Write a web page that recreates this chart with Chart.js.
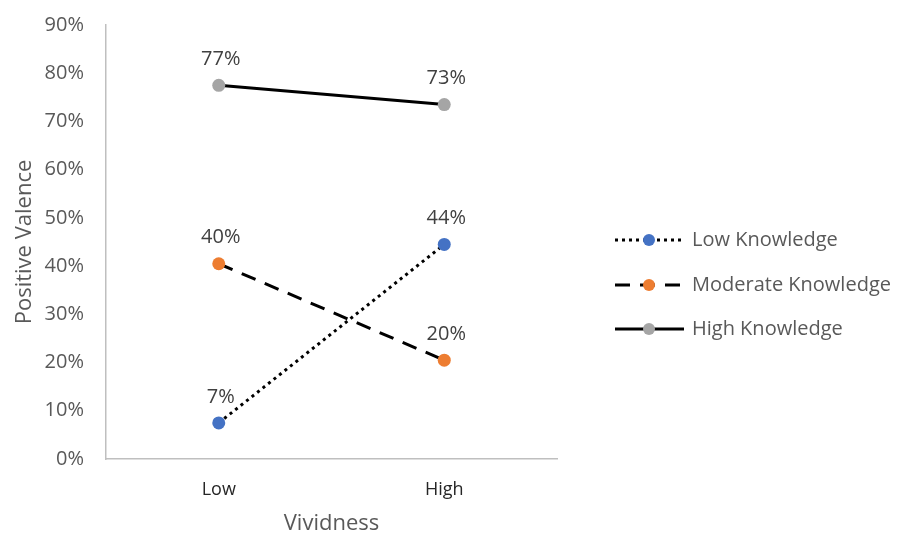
<!DOCTYPE html>
<html>
<head>
<meta charset="utf-8">
<script src="https://cdn.jsdelivr.net/npm/chart.js@4.4.1/dist/chart.umd.min.js"></script>
<style>
  html, body { margin: 0; padding: 0; background: #ffffff; }
  #wrap { width: 905px; height: 537px; position: relative; }
</style>
</head>
<body>
<div id="wrap"><canvas id="chart" width="905" height="537"></canvas></div>
<script>
// Vividness categories and positive-valence percentages by knowledge level
const categories = ['Low', 'High'];
const lowKnowledge = [7.49, 44.49];
const moderateKnowledge = [40.49, 20.49];
const highKnowledge = [77.49, 73.49];
const yTicks = [0, 10, 20, 30, 40, 50, 60, 70, 80, 90];

const FONT = "'Open Sans', 'Liberation Sans', sans-serif";
const GREY_TEXT = '#595959';

// Percent labels above each point
const pointLabels = {
  id: 'pointLabels',
  afterDatasetsDraw(chart) {
    const ctx = chart.ctx;
    ctx.save();
    ctx.font = '20px ' + FONT;
    ctx.fillStyle = '#404040';
    ctx.textAlign = 'center';
    ctx.textBaseline = 'middle';
    chart.data.datasets.forEach((ds, i) => {
      const meta = chart.getDatasetMeta(i);
      meta.data.forEach((pt, j) => {
        ctx.fillText(Math.round(ds.data[j]) + '%', pt.x + 2, pt.y - 26);
      });
    });
    ctx.restore();
  }
};

// Legend on the right: line sample in the series style with its marker
const sideLegend = {
  id: 'sideLegend',
  afterDraw(chart) {
    const ctx = chart.ctx;
    const x0 = 615, x1 = 684, xm = 649, xt = 692;
    const ys = [240, 285, 329];
    ctx.save();
    chart.data.datasets.forEach((ds, i) => {
      const y = ys[i];
      ctx.beginPath();
      ctx.setLineDash(ds.borderDash || []);
      ctx.lineWidth = ds.borderWidth;
      ctx.strokeStyle = ds.borderColor;
      ctx.moveTo(x0, y);
      ctx.lineTo(x1, y);
      ctx.stroke();
      ctx.setLineDash([]);
      ctx.beginPath();
      ctx.arc(xm, y, 6, 0, Math.PI * 2);
      ctx.fillStyle = ds.pointBackgroundColor;
      ctx.fill();
      ctx.font = '20px ' + FONT;
      ctx.fillStyle = GREY_TEXT;
      ctx.textAlign = 'left';
      ctx.textBaseline = 'middle';
      ctx.fillText(ds.label, xt, y);
    });
    ctx.restore();
  }
};

function series(label, data, color, dash) {
  return {
    label: label,
    data: data,
    borderColor: '#000000',
    borderWidth: 3,
    borderDash: dash,
    borderCapStyle: 'butt',
    pointRadius: 6.5,
    pointHoverRadius: 6.5,
    pointBackgroundColor: color,
    pointBorderColor: color,
    pointBorderWidth: 0,
    tension: 0,
    fill: false
  };
}

new Chart(document.getElementById('chart'), {
  type: 'line',
  data: {
    labels: categories,
    datasets: [
      series('Low Knowledge', lowKnowledge, '#4472C4', [3, 4]),
      series('Moderate Knowledge', moderateKnowledge, '#ED7D31', [15, 10]),
      series('High Knowledge', highKnowledge, '#A5A5A5', [])
    ]
  },
  options: {
    responsive: false,
    animation: false,
    events: [],
    layout: { padding: { top: 25, right: 348, left: 0, bottom: 0 } },
    plugins: {
      legend: { display: false },
      tooltip: { enabled: false }
    },
    scales: {
      x: {
        offset: true,
        grid: { display: false, drawTicks: false },
        border: { display: true, color: '#BFBFBF', width: 1.5 },
        ticks: { color: '#262626', font: { family: FONT, size: 18 }, padding: 20 },
        title: { display: true, text: 'Vividness', color: GREY_TEXT, font: { family: FONT, size: 22 }, padding: { top: 16, bottom: 0 } },
        afterFit(scale) {
          scale.height = 78;
          scale.paddingLeft = 0;
          scale.paddingRight = 0;
        }
      },
      y: {
        min: 0,
        max: 90,
        afterBuildTicks(scale) { scale.ticks = yTicks.map(v => ({ value: v })); },
        grid: { display: false, drawTicks: false },
        border: { display: true, color: '#BFBFBF', width: 1.5 },
        ticks: {
          color: GREY_TEXT,
          font: { family: FONT, size: 20 },
          padding: 22,
          callback: v => v + '%'
        },
        title: { display: true, text: 'Positive Valence', color: GREY_TEXT, font: { family: FONT, size: 22 }, padding: { top: 12, bottom: 0 } },
        afterFit(scale) {
          scale.width = 106;
          scale.paddingTop = 0;
          scale.paddingBottom = 0;
        }
      }
    }
  },
  plugins: [pointLabels, sideLegend]
});
</script>
</body>
</html>
